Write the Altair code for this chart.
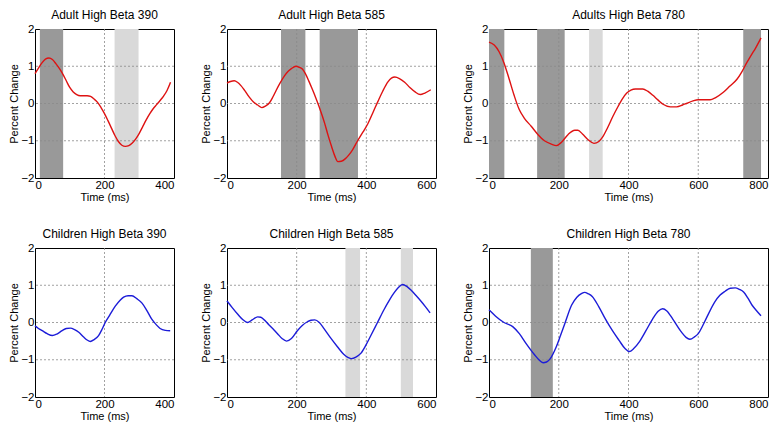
import altair as alt
import pandas as pd

FONT = "Liberation Sans"

titles = ["Adult High Beta 390", "Adult High Beta 585", "Adults High Beta 780",
          "Children High Beta 390", "Children High Beta 585", "Children High Beta 780"]

# ---- Adult 390 ----
a390_t = [0, 10, 20, 30, 40, 50, 60, 70, 80, 90, 100, 110, 120, 130, 140, 150, 160, 170, 180, 190,
          200, 210, 220, 230, 240, 250, 260, 270, 280, 290, 300, 310, 320, 330, 340, 350, 360, 370, 380, 390]
a390_v = [0.80, 0.95, 1.09, 1.19, 1.22, 1.18, 1.07, 0.94, 0.79, 0.61, 0.43, 0.31, 0.24, 0.21, 0.21, 0.21,
          0.19, 0.12, 0.03, -0.11, -0.27, -0.46, -0.66, -0.86, -1.02, -1.12, -1.15, -1.13, -1.06, -0.95,
          -0.80, -0.62, -0.44, -0.28, -0.14, -0.03, 0.08, 0.20, 0.35, 0.57]
a390_dark = [(14, 81)]
a390_light = [(229, 298)]

# ---- Adult 585 ----
a585_t = [0, 10, 21, 30, 40, 50, 64, 76, 88, 100, 110, 122, 132, 141, 153, 165, 175, 184, 198, 208,
          217, 225, 235, 245, 255, 265, 280, 290, 300, 310, 318, 328, 340, 350, 360, 375, 390, 404,
          420, 433, 447, 462, 472, 482, 495, 510, 525, 540, 555, 568, 585]
a585_v = [0.55, 0.59, 0.61, 0.57, 0.48, 0.36, 0.17, 0.04, -0.04, -0.11, -0.07, 0.02, 0.18, 0.35, 0.56,
          0.74, 0.86, 0.93, 1.00, 0.97, 0.92, 0.80, 0.60, 0.38, 0.15, -0.10, -0.52, -0.85, -1.15, -1.42,
          -1.56, -1.55, -1.48, -1.38, -1.25, -1.00, -0.77, -0.55, -0.22, 0.05, 0.33, 0.58, 0.68, 0.71,
          0.67, 0.57, 0.43, 0.31, 0.24, 0.28, 0.37]
a585_dark = [(155, 225), (266, 376)]
a585_light = []

# ---- Adults 780 ----
a780_t = [0, 15, 29, 43, 58, 72, 87, 101, 121, 140, 159, 179, 193, 208, 227, 246, 255, 268, 285, 301,
          315, 325, 340, 354, 370, 383, 395, 407, 420, 441, 455, 470, 485, 499, 520, 538, 555, 566, 585,
          600, 620, 634, 650, 672, 690, 711, 725, 740, 752, 764, 780]
a780_v = [1.65, 1.57, 1.39, 1.09, 0.65, 0.22, -0.17, -0.39, -0.61, -0.83, -1.00, -1.09, -1.13, -1.04,
          -0.83, -0.72, -0.72, -0.82, -0.98, -1.07, -1.02, -0.91, -0.65, -0.37, -0.08, 0.13, 0.28, 0.36,
          0.39, 0.39, 0.33, 0.22, 0.09, -0.02, -0.09, -0.09, -0.04, 0.00, 0.07, 0.10, 0.10, 0.10, 0.16,
          0.30, 0.46, 0.65, 0.85, 1.11, 1.30, 1.48, 1.76]
a780_dark = [(0, 44), (138, 217), (729, 780)]
a780_light = [(287, 326)]

# ---- Children 390 ----
c390_t = [0, 10, 21, 35, 50, 63, 78, 90, 102, 114, 126, 140, 150, 159, 170, 183, 193, 202, 215, 231,
          245, 255, 268, 279, 293, 308, 322, 336, 350, 360, 375, 389]
c390_v = [-0.09, -0.16, -0.22, -0.30, -0.35, -0.31, -0.22, -0.16, -0.15, -0.19, -0.26, -0.39, -0.47,
          -0.51, -0.46, -0.35, -0.18, 0.00, 0.20, 0.44, 0.60, 0.68, 0.72, 0.72, 0.64, 0.52, 0.32, 0.09,
          -0.07, -0.16, -0.21, -0.22]
c390_dark = []
c390_light = []

# ---- Children 585 ----
c585_t = [0, 15, 31, 45, 59, 72, 88, 97, 107, 120, 135, 145, 158, 171, 185, 202, 216, 231, 241, 252,
          265, 279, 298, 317, 335, 348, 357, 370, 384, 398, 413, 432, 451, 465, 480, 492, 504, 516, 528,
          542, 557, 570, 583]
c585_v = [0.58, 0.40, 0.22, 0.08, 0.00, 0.07, 0.15, 0.14, 0.07, -0.06, -0.20, -0.30, -0.43, -0.50,
          -0.43, -0.22, -0.08, 0.02, 0.06, 0.07, 0.00, -0.17, -0.42, -0.65, -0.85, -0.94, -0.97, -0.93,
          -0.83, -0.62, -0.35, 0.00, 0.35, 0.58, 0.80, 0.94, 1.02, 0.97, 0.87, 0.73, 0.57, 0.42, 0.26]
c585_dark = []
c585_light = [(340, 382), (499, 534)]

# ---- Children 780 ----
c780_t = [0, 19, 43, 68, 87, 106, 130, 143, 155, 165, 174, 193, 205, 217, 237, 252, 266, 274, 285, 296,
          315, 334, 354, 373, 390, 402, 415, 431, 450, 469, 485, 498, 510, 527, 552, 565, 576, 590, 600,
          612, 624, 648, 662, 677, 692, 706, 718, 730, 742, 754, 766, 780]
c780_v = [0.34, 0.17, 0.00, -0.11, -0.30, -0.56, -0.86, -1.00, -1.08, -1.06, -0.99, -0.65, -0.35,
          -0.04, 0.47, 0.68, 0.78, 0.81, 0.77, 0.70, 0.42, 0.09, -0.22, -0.48, -0.70, -0.78, -0.70,
          -0.52, -0.22, 0.09, 0.30, 0.37, 0.31, 0.09, -0.26, -0.40, -0.45, -0.38, -0.30, -0.10, 0.13,
          0.56, 0.73, 0.84, 0.92, 0.93, 0.89, 0.82, 0.66, 0.47, 0.33, 0.18]
c780_dark = [(120, 183)]
c780_light = []

x_max = [400, 600, 800]
x_ticks = [[0, 200, 400], [0, 200, 400, 600], [0, 200, 400, 600, 800]]
x_grid = [[200], [200, 400], [200, 400, 600]]
y_ticks = [-2, -1, 0, 1, 2]
y_grid = [-1, 0, 1]
widths = [139, 209, 279]
HEIGHT = 149

RED = "#de1212"
BLUE = "#1c1cd8"
DARK = "#999999"
LIGHT = "#d9d9d9"
GRID = "#8a8a8a"


def panel(title, t, v, color, k, dark, light):
    xscale = alt.Scale(domain=[0, x_max[k]], nice=False, zero=False)
    yscale = alt.Scale(domain=[-2, 2], nice=False)
    xaxis = alt.Axis(values=x_ticks[k], title="Time (ms)")
    yaxis = alt.Axis(values=y_ticks, title="Percent Change")
    layers = []
    for bands, col in ((dark, DARK), (light, LIGHT)):
        if bands:
            bdf = pd.DataFrame({"start": [b[0] for b in bands], "end": [b[1] for b in bands]})
            layers.append(
                alt.Chart(bdf).mark_rect(color=col, opacity=1).encode(
                    x=alt.X("start:Q", scale=xscale, axis=xaxis),
                    x2="end:Q",
                    y=alt.Y(datum=-2, scale=yscale, axis=yaxis),
                    y2=alt.Y2(datum=2),
                )
            )
    gx = pd.DataFrame({"g": x_grid[k]})
    gy = pd.DataFrame({"g": y_grid})
    layers.append(
        alt.Chart(gx).mark_rule(color=GRID, strokeDash=[2, 2], strokeWidth=0.8).encode(
            x=alt.X("g:Q", scale=xscale, axis=xaxis)
        )
    )
    layers.append(
        alt.Chart(gy).mark_rule(color=GRID, strokeDash=[2, 2], strokeWidth=0.8).encode(
            y=alt.Y("g:Q", scale=yscale, axis=yaxis)
        )
    )
    df = pd.DataFrame({"t": t, "v": v})
    layers.append(
        alt.Chart(df).mark_line(color=color, strokeWidth=1.4, interpolate="monotone").encode(
            x=alt.X("t:Q", scale=xscale, axis=xaxis),
            y=alt.Y("v:Q", scale=yscale, axis=yaxis),
        )
    )
    return alt.layer(*layers).properties(title=title, width=widths[k], height=HEIGHT)


series = [
    (a390_t, a390_v, RED, a390_dark, a390_light),
    (a585_t, a585_v, RED, a585_dark, a585_light),
    (a780_t, a780_v, RED, a780_dark, a780_light),
    (c390_t, c390_v, BLUE, c390_dark, c390_light),
    (c585_t, c585_v, BLUE, c585_dark, c585_light),
    (c780_t, c780_v, BLUE, c780_dark, c780_light),
]

panels = []
for i, (t, v, col, dk, lt) in enumerate(series):
    panels.append(panel(titles[i], t, v, col, i % 3, dk, lt))

row1 = alt.hconcat(*panels[:3], spacing=25)
row2 = alt.hconcat(*panels[3:], spacing=25)

chart = (
    alt.vconcat(row1, row2, spacing=24)
    .properties(padding=0, background="white")
    .configure_view(stroke="black", strokeWidth=1)
    .configure_axis(
        grid=False, ticks=False, domain=False,
        labelFont=FONT, labelFontSize=11.5, labelColor="black", labelPadding=1,
        titleFont=FONT, titleFontSize=11, titleFontWeight="normal", titleColor="black",
        titlePadding=1,
    )
    .configure_title(font=FONT, fontSize=12, fontWeight="normal", color="black", offset=1)
)

chart.save("out.html", embed_options={"renderer": "svg", "actions": False})
